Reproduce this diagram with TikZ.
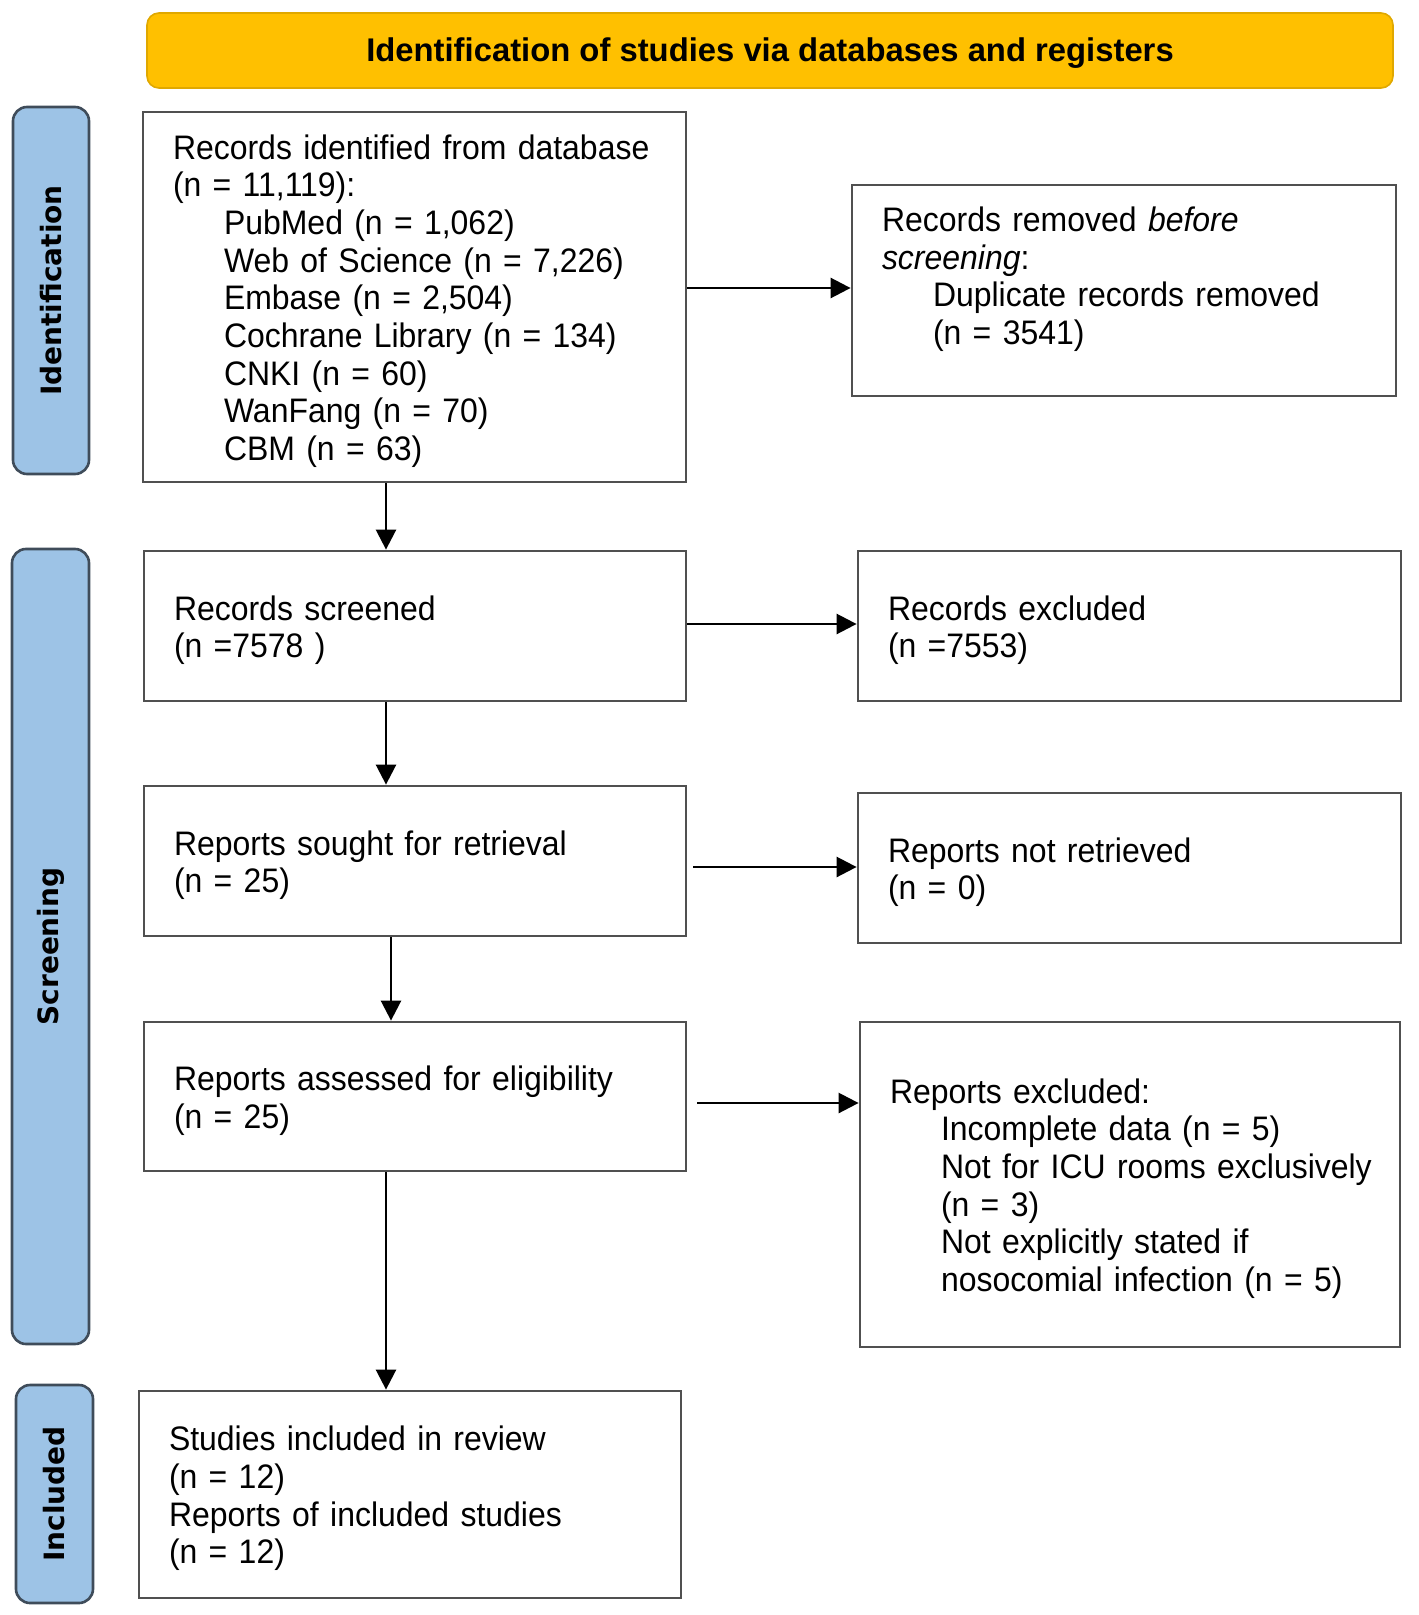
\documentclass[tikz,border=0pt]{standalone}
\usepackage{fontspec}
\setmainfont{Liberation Sans}
\newfontfamily\boxfont{Liberation Sans}[FakeStretch=0.94]
\newfontfamily\tabfont{DejaVu Sans}
\usetikzlibrary{arrows.meta}
\definecolor{hdryellow}{HTML}{FFC000}
\definecolor{hdrborder}{HTML}{E0A800}
\definecolor{tabblue}{HTML}{9DC3E6}
\definecolor{tabborder}{HTML}{3F4C5A}
\definecolor{boxgray}{HTML}{505050}
\newcommand\myind{\hspace*{25.5pt}}
\begin{document}
\begin{tikzpicture}[x=0.5pt,y=-0.5pt,
  bx/.style n args={3}{draw=boxgray, line width=1.4pt, fill=white, align=left,
     inner xsep=15pt, inner ysep=0pt, font=\boxfont\fontsize{17}{18.85}\selectfont,
     execute at begin node={\hyphenpenalty=10000\exhyphenpenalty=10000\leavevmode\vrule width 0pt height 16.4pt depth 0pt},
     minimum width=#1pt, minimum height=#2pt, text width=#3pt},
  tabbox/.style n args={2}{draw=tabborder, fill=tabblue, line width=1.3pt, rounded corners=7pt,
     rotate=90, inner sep=0pt, font=\tabfont\bfseries\fontsize{14}{16}\selectfont,
     minimum width=#1pt, minimum height=#2pt},
  arr/.style={line width=1.3pt, draw=black, -{Triangle[length=10pt,width=10pt]}}]
\useasboundingbox (0,0) rectangle (1418,1615);

% header
\node[draw=hdrborder, fill=hdryellow, line width=0.8pt, rounded corners=6pt,
      minimum width=623pt, minimum height=37.5pt, inner sep=0pt] (hdr) at (770,50.5) {};
\node[font=\bfseries\fontsize{16.4}{18}\selectfont, inner sep=0pt, anchor=center]
      (hdrtext) at ([yshift=-1.5pt]hdr.center) {Identification of studies via databases and registers};

% side tabs
\node[tabbox={183.5}{38}] (tabid) at (51,290.5) {Identification};
\node[tabbox={397.5}{38.5}] (tabsc) at (50.5,946.5) {Screening};
\node[tabbox={109}{38.5}] (tabin) at (54.5,1494) {Included};

% boxes
\node[bx={271.5}{185}{241.5}] (ident) at (414.5,297)
  {\mbox{Records identified from database}\\
   (n = 11,119):\\
   \myind PubMed (n = 1,062)\\
   \myind\mbox{Web of Science (n = 7,226)}\\
   \myind Embase (n = 2,504)\\
   \myind\mbox{Cochrane Library (n = 134)}\\
   \myind CNKI (n = 60)\\
   \myind WanFang (n = 70)\\
   \myind CBM (n = 63)};

\node[bx={272}{105.5}{242}] (removed) at (1124,290.5)
  {Records removed \textit{before}\\
   \textit{screening}:\\
   \myind\mbox{Duplicate records removed}\\
   \myind (n = 3541)\\ ~};

\node[bx={271}{75}{241}] (screened) at (415,626)
  {Records screened\\ (n =7578 )};
\node[bx={271.5}{75}{241.5}] (excluded) at (1129.5,626)
  {Records excluded\\ (n =7553)};

\node[bx={271}{75}{241}] (sought) at (415,861)
  {Reports sought for retrieval\\ (n = 25)};
\node[bx={271.5}{75}{241.5}] (notret) at (1129.5,868)
  {Reports not retrieved\\ (n = 0)};

\node[bx={271}{74.5}{241}] (assessed) at (415,1096.5)
  {\mbox{Reports assessed for eligibility}\\ (n = 25)};
\node[bx={270}{162.5}{240}] (repexcl) at (1130,1184.5)
  {Reports excluded:\\
   \myind\mbox{Incomplete data (n = 5)}\\
   \myind\mbox{Not for ICU rooms exclusively}\\
   \myind (n = 3)\\
   \myind\mbox{Not explicitly stated if}\\
   \myind\mbox{nosocomial infection (n = 5)}};

\node[bx={271}{103.5}{241}] (included) at (410,1494.5)
  {Studies included in review\\
   (n = 12)\\
   \mbox{Reports of included studies}\\
   (n = 12)};

% helper coordinates for connector lines
\coordinate (vx) at (386,0);
\coordinate (vxb) at (391,0);
\coordinate (h1) at (0,288);
\coordinate (h2) at (0,624);
\coordinate (h3) at (0,867);
\coordinate (h4) at (0,1103);

% vertical arrows
\draw[arr] (ident.south -| vx) -- (screened.north -| vx);
\draw[arr] (screened.south -| vx) -- (sought.north -| vx);
\draw[arr] (sought.south -| vxb) -- (assessed.north -| vxb);
\draw[arr] (assessed.south -| vx) -- (included.north -| vx);

% horizontal arrows
\draw[arr] (ident.east |- h1) -- (removed.west |- h1);
\draw[arr] (screened.east |- h2) -- (excluded.west |- h2);
\draw[arr, shorten <=3pt] (sought.east |- h3) -- (notret.west |- h3);
\draw[arr, shorten <=5pt] (assessed.east |- h4) -- (repexcl.west |- h4);
\end{tikzpicture}
\end{document}
